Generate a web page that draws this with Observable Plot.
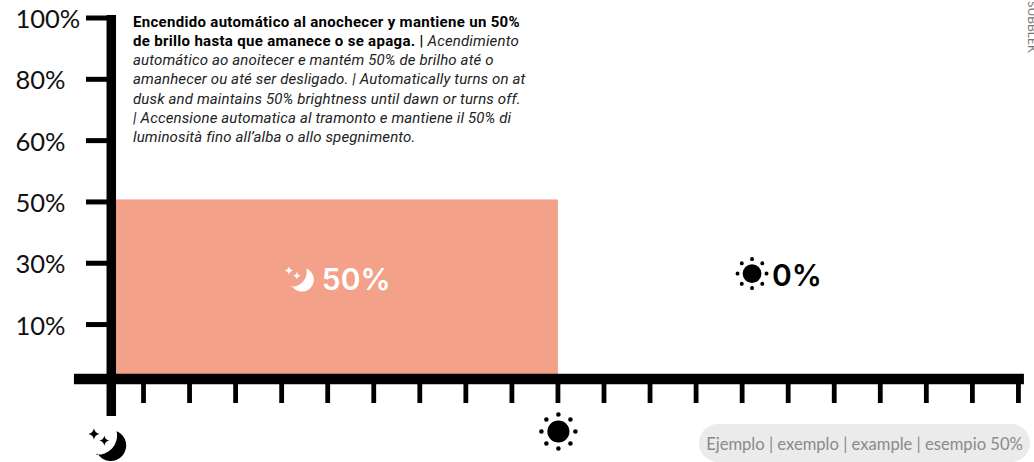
<!DOCTYPE html>
<html><head><meta charset="utf-8">
<script src="https://cdn.jsdelivr.net/npm/d3@7"></script>
<script src="https://cdn.jsdelivr.net/npm/@observablehq/plot@0.6"></script>
<style>
html,body{margin:0;padding:0;background:#fff;overflow:hidden}
#wrap{position:relative;width:1034px;height:462px;overflow:hidden}
#note{position:absolute;left:133px;top:12.5px;font:italic 400 15px/19.3px Roboto,sans-serif;color:#222;white-space:nowrap;letter-spacing:.14px}
#note b{font-style:normal;font-weight:700;color:#000;letter-spacing:.31px}
#pill{position:absolute;left:699px;top:424px;width:331px;height:38px;border-radius:19px;background:#ebebeb;color:#8a8a8a;font:400 16.6px/41px Lato,sans-serif;text-align:center;white-space:nowrap}
</style></head>
<body><div id="wrap"></div>
<script>
const yTicks = [10, 30, 50, 60, 80, 100];
const yStops = [0, 10, 30, 50, 60, 80, 100];
const hourTicks = d3.range(0, 20);
const axisStart = -0.7, dawn = 9.01, axisEnd = 19.07;
const nightLevel = 50, dayLevel = 0;
const noteBold = ["Encendido automático al anochecer y mantiene un 50%", "de brillo hasta que amanece o se apaga. | "];
const noteItalic = ["Acendimiento", "automático ao anoitecer e mantém 50% de brilho até o", "amanhecer ou até ser desligado. | Automatically turns on at", "dusk and maintains 50% brightness until dawn or turns off.", "| Accensione automatica al tramonto e mantiene il 50% di", "luminosità fino all’alba o allo spegnimento."];
const exampleLabel = "Ejemplo | exemplo | example | esempio 50%";
const sideLabel = "SUBBLEK";

const rad = d => d * Math.PI / 180;
const sun = {draw(c, size) {
  const r = Math.sqrt(size / Math.PI);
  c.moveTo(.65 * r, 0); c.arc(0, 0, .65 * r, 0, 2 * Math.PI);
  for (let i = 0; i < 8; ++i) {
    const a = i * Math.PI / 4, x = r * Math.cos(a), y = r * Math.sin(a);
    c.moveTo(x + .135 * r, y); c.arc(x, y, .135 * r, 0, 2 * Math.PI);
  }
}};
function spark(c, x, y, s) {
  const k = s * .14;
  c.moveTo(x, y - s);
  c.quadraticCurveTo(x + k, y - k, x + s, y);
  c.quadraticCurveTo(x + k, y + k, x, y + s);
  c.quadraticCurveTo(x - k, y + k, x - s, y);
  c.quadraticCurveTo(x - k, y - k, x, y - s);
  c.closePath();
}
const moon = {draw(c, size) {
  const r = Math.sqrt(size / Math.PI);
  c.arc(0, 0, r, rad(-66.8), rad(149));
  c.arc(-.82 * r, -.645 * r, 1.232 * r, rad(97), rad(-12), true);
  c.closePath();
  spark(c, -1.08 * r, -.75 * r, .36 * r);
  spark(c, -.41 * r, -.32 * r, .33 * r);
}};

const nightMid = (axisStart + dawn) / 2, dayMid = (dawn + axisEnd) / 2;
const fmt = d => d + "%";
// the reference's y axis is evenly stepped, not linear: each labelled stop is one step apart
const step = d3.scaleLinear(yStops, [-0.888, 0, 1, 2, 3, 4, 5]);
const labelY = step(25);
const base = step(0), top100 = step(100);
const chart = Plot.plot({
  width: 1034, height: 462,
  marginLeft: 107, marginRight: 11, marginTop: 17.5, marginBottom: 83.5,
  style: {background: "transparent", overflow: "hidden"},
  x: {domain: [-0.782, 19.11]},
  y: {domain: [base, top100]},
  marks: [
    Plot.rect([{x1: axisStart, x2: dawn, v: step(nightLevel)}], {x1: "x1", x2: "x2", y1: base, y2: "v", fill: "#f4a189", insetTop: -2}),
    Plot.axisX({ticks: hourTicks, tickSize: 24.5, fill: "none", label: null, strokeWidth: 4.8, stroke: "#000"}),
    Plot.axisY({ticks: yTicks.map(step), tickSize: 21, fill: "none", label: null, strokeWidth: 5, stroke: "#000"}),
    Plot.axisY({ticks: yTicks.map(step), tickSize: 0, tickPadding: 92, textAnchor: "start", tickFormat: d => fmt(yTicks.find(v => Math.abs(step(v) - d) < 1e-6)), label: null, fontSize: 25.5, fontWeight: 400, fontFamily: "Lato", color: "#111", dy: 2}),
    Plot.ruleY([base], {x1: -1.5, x2: axisEnd + .06, stroke: "#000", strokeWidth: 10.5}),
    Plot.ruleX([axisStart], {y1: top100, y2: base, insetBottom: -37.5, insetTop: -2.5, stroke: "#000", strokeWidth: 9.5}),
    Plot.dot([0], {x: dawn, y: base, dy: 52.5, r: 17, symbol: sun, fill: "#000", stroke: "none"}),
    Plot.dot([0], {x: axisStart, y: base, dy: 66.5, dx: -.6, r: 15.5, symbol: moon, fill: "#000", stroke: "none"}),
    Plot.dot([0], {x: nightMid, y: labelY, dy: 1, dx: -33, r: 12, symbol: moon, fill: "#fff", stroke: "none"}),
    Plot.dot([0], {x: dayMid, y: labelY, dy: -5, dx: -38, r: 14.5, symbol: sun, fill: "#000", stroke: "none"}),
    Plot.text([nightLevel], {x: nightMid, y: labelY, text: fmt, dx: -13, dy: 2, textAnchor: "start", fontSize: 30, fontWeight: 600, fontFamily: "Inter", fill: "#fff"}),
    Plot.text([dayLevel], {x: dayMid, y: labelY, text: fmt, dx: -18, dy: -2, textAnchor: "start", fontSize: 30, fontWeight: 600, fontFamily: "Inter", fill: "#000"}),
    Plot.text([sideLabel], {frameAnchor: "top-right", dx: 13, dy: -17, rotate: 90, textAnchor: "start", fontSize: 12, fill: "#777", fontFamily: "Lato"})
  ]
});
const wrap = document.getElementById("wrap");
wrap.append(chart);
const note = document.createElement("div"); note.id = "note";
note.innerHTML = `<b>${noteBold[0]}<br>${noteBold[1]}</b>${noteItalic.join("<br>")}`;
wrap.append(note);
const pill = document.createElement("div"); pill.id = "pill"; pill.textContent = exampleLabel;
wrap.append(pill);
</script></body></html>
